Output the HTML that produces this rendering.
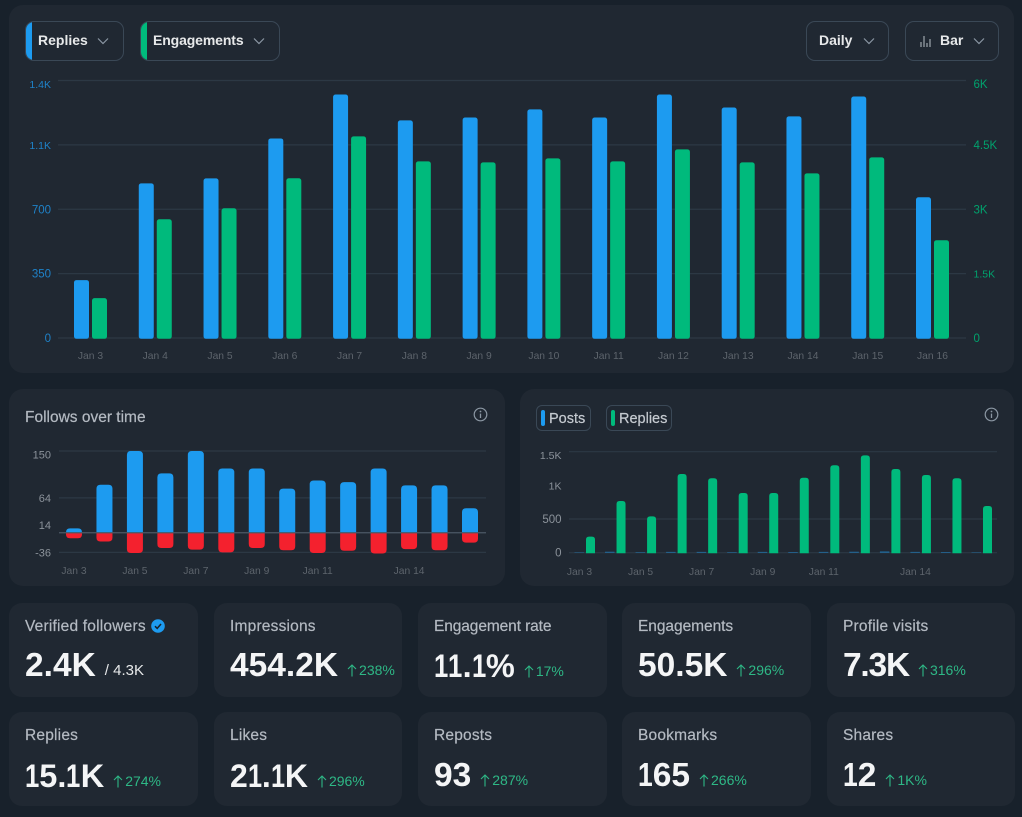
<!DOCTYPE html>
<html lang="en">
<head>
<meta charset="utf-8">
<title>Analytics dashboard</title>
<style>
html,body{margin:0;padding:0;background:#18212b;}
#page{position:relative;width:1022px;height:817px;overflow:hidden;background:#18212b;font-family:"Liberation Sans",sans-serif;}
.panel{position:absolute;background:#202832;border-radius:14px;}
.abs{position:absolute;}
svg{position:absolute;overflow:visible;}
svg text{font-family:"Liberation Sans",sans-serif;}
.btn{position:absolute;top:21px;height:38px;border:1px solid #3a4856;border-radius:9px;overflow:hidden;box-sizing:content-box;}
.btn .strip{position:absolute;left:0;top:0;bottom:0;width:6px;}
.btn .t{position:absolute;top:0;line-height:37px;font-size:14px;font-weight:700;color:#e7e9ea;white-space:nowrap;}
.btn svg{position:absolute;}
.leg{position:absolute;top:405px;height:24px;border:1px solid #3a4856;border-radius:6px;}
.leg .s{position:absolute;left:4px;top:4px;width:4px;height:16px;border-radius:2px;}
.leg .t{position:absolute;left:12px;top:0;line-height:26px;font-size:14.5px;color:#c5cad0;-webkit-text-stroke:.2px #c5cad0;white-space:nowrap;}
.card{position:absolute;width:189px;height:94px;background:#202832;border-radius:13px;}
.card .lab{position:absolute;left:16px;top:14px;line-height:20px;font-size:15.5px;letter-spacing:.2px;color:#b4bac2;-webkit-text-stroke:.2px #b4bac2;white-space:nowrap;}
.card .row{position:absolute;left:16px;top:44px;height:38px;display:flex;align-items:baseline;white-space:nowrap;}
.card.r2 .row{top:45px;}
.card .val{font-size:33.5px;line-height:38px;font-weight:700;color:#f4f5f6;}
.card .val .n{display:inline-block;width:.44em;transform:scaleX(.79);transform-origin:left center;}
.card .delta{position:relative;top:-1px;margin-left:9px;padding-left:12px;font-size:14px;color:#2eb886;}
.card .delta svg{left:0;top:2px;}
.card .sub{position:relative;top:-1px;margin-left:9px;font-size:15px;color:#e7e9ea;}
</style>
</head>
<body>
<div id="page">

  <div class="panel" style="left:9px;top:5px;width:1005px;height:368px"></div>

  <div class="btn" style="left:25px;width:97px">
    <div class="strip" style="background:#1d9bf0"></div>
    <div class="t" style="left:12px">Replies</div>
    <svg style="left:71px;top:15px" width="12" height="8" viewBox="0 0 12 8"><path d="M1 1.5L6 6.5L11 1.5" fill="none" stroke="#8b97a3" stroke-width="1.2"/></svg>
  </div>
  <div class="btn" style="left:140px;width:138px">
    <div class="strip" style="background:#00ba7c"></div>
    <div class="t" style="left:12px;letter-spacing:-.12px">Engagements</div>
    <svg style="left:112px;top:15px" width="12" height="8" viewBox="0 0 12 8"><path d="M1 1.5L6 6.5L11 1.5" fill="none" stroke="#8b97a3" stroke-width="1.2"/></svg>
  </div>
  <div class="btn" style="left:806px;width:81px">
    <div class="t" style="left:12px">Daily</div>
    <svg style="left:56px;top:15px" width="12" height="8" viewBox="0 0 12 8"><path d="M1 1.5L6 6.5L11 1.5" fill="none" stroke="#8b97a3" stroke-width="1.2"/></svg>
  </div>
  <div class="btn" style="left:905px;width:92px">
    <svg style="left:14px;top:13px" width="11" height="12" viewBox="0 0 11 12"><path d="M1 7V12M4 1V12M7 8V12M10 4V12" fill="none" stroke="#aab2ba" stroke-width="1.1"/></svg>
    <div class="t" style="left:34px">Bar</div>
    <svg style="left:67px;top:15px" width="12" height="8" viewBox="0 0 12 8"><path d="M1 1.5L6 6.5L11 1.5" fill="none" stroke="#8b97a3" stroke-width="1.2"/></svg>
  </div>

  <svg id="main-chart" style="left:9px;top:70px" width="1005" height="300" viewBox="9 70 1005 300"></svg>

  <div class="panel" style="left:9px;top:389px;width:496px;height:197px"></div>
  <div class="abs" style="left:25px;top:408px;line-height:20px;font-size:15.5px;color:#b4bac2;-webkit-text-stroke:.2px #b4bac2;white-space:nowrap">Follows over time</div>
  <svg style="left:473px;top:407px" width="15" height="15" viewBox="0 0 15 15"><circle cx="7.5" cy="7.5" r="6.3" fill="none" stroke="#8b97a3" stroke-width="1.2"/><path d="M7.5 6.6V11" stroke="#8b97a3" stroke-width="1.3"/><circle cx="7.5" cy="4.5" r=".9" fill="#8b97a3"/></svg>
  <svg id="follows-chart" style="left:9px;top:440px" width="496" height="140" viewBox="9 440 496 140"></svg>

  <div class="panel" style="left:520px;top:389px;width:494px;height:197px"></div>
  <div class="leg" style="left:536px;width:53px"><div class="s" style="background:#1d9bf0"></div><div class="t">Posts</div></div>
  <div class="leg" style="left:606px;width:64px"><div class="s" style="background:#00ba7c"></div><div class="t">Replies</div></div>
  <svg style="left:984px;top:407px" width="15" height="15" viewBox="0 0 15 15"><circle cx="7.5" cy="7.5" r="6.3" fill="none" stroke="#8b97a3" stroke-width="1.2"/><path d="M7.5 6.6V11" stroke="#8b97a3" stroke-width="1.3"/><circle cx="7.5" cy="4.5" r=".9" fill="#8b97a3"/></svg>
  <svg id="posts-chart" style="left:520px;top:440px" width="494" height="140" viewBox="520 440 494 140"></svg>

  <div class="card" style="left:9px;top:603px">
    <div class="lab">Verified followers</div>
    <svg style="left:142px;top:16px" width="14" height="14" viewBox="0 0 14 14"><circle cx="7" cy="7" r="6.8" fill="#1d9bf0"/><path d="M4 7.2L6.2 9.4L10 5" fill="none" stroke="#16212b" stroke-width="1.5"/></svg>
    <div class="row"><span class="val">2.4K</span><span class="sub">/ 4.3K</span></div>
  </div>
  <div class="card" style="left:214px;top:603px;width:188px">
    <div class="lab">Impressions</div>
    <div class="row"><span class="val">454.2K</span><span class="delta"><svg width="10" height="13" viewBox="0 0 10 13"><path d="M5 12.5V1M1 5L5 1L9 5" fill="none" stroke="#2eb886" stroke-width="1.1"/></svg>238%</span></div>
  </div>
  <div class="card" style="left:418px;top:603px">
    <div class="lab" style="letter-spacing:-.1px">Engagement rate</div>
    <div class="row"><span class="val" style="font-size:32.5px"><span class="n">1</span><span class="n">1</span>.<span class="n">1</span>%</span><span class="delta"><svg width="10" height="13" viewBox="0 0 10 13"><path d="M5 12.5V1M1 5L5 1L9 5" fill="none" stroke="#2eb886" stroke-width="1.1"/></svg>17%</span></div>
  </div>
  <div class="card" style="left:622px;top:603px">
    <div class="lab" style="letter-spacing:-.05px">Engagements</div>
    <div class="row"><span class="val">50.5K</span><span class="delta"><svg width="10" height="13" viewBox="0 0 10 13"><path d="M5 12.5V1M1 5L5 1L9 5" fill="none" stroke="#2eb886" stroke-width="1.1"/></svg>296%</span></div>
  </div>
  <div class="card" style="left:827px;top:603px;width:188px">
    <div class="lab">Profile visits</div>
    <div class="row"><span class="val" style="letter-spacing:-1.2px">7.3K</span><span class="delta"><svg width="10" height="13" viewBox="0 0 10 13"><path d="M5 12.5V1M1 5L5 1L9 5" fill="none" stroke="#2eb886" stroke-width="1.1"/></svg>316%</span></div>
  </div>

  <div class="card r2" style="left:9px;top:712px">
    <div class="lab">Replies</div>
    <div class="row"><span class="val" style="font-size:32.5px"><span class="n">1</span>5.<span class="n">1</span>K</span><span class="delta"><svg width="10" height="13" viewBox="0 0 10 13"><path d="M5 12.5V1M1 5L5 1L9 5" fill="none" stroke="#2eb886" stroke-width="1.1"/></svg>274%</span></div>
  </div>
  <div class="card r2" style="left:214px;top:712px;width:188px">
    <div class="lab">Likes</div>
    <div class="row"><span class="val" style="font-size:32px">2<span class="n">1</span>.<span class="n">1</span>K</span><span class="delta"><svg width="10" height="13" viewBox="0 0 10 13"><path d="M5 12.5V1M1 5L5 1L9 5" fill="none" stroke="#2eb886" stroke-width="1.1"/></svg>296%</span></div>
  </div>
  <div class="card r2" style="left:418px;top:712px">
    <div class="lab">Reposts</div>
    <div class="row"><span class="val">93</span><span class="delta"><svg width="10" height="13" viewBox="0 0 10 13"><path d="M5 12.5V1M1 5L5 1L9 5" fill="none" stroke="#2eb886" stroke-width="1.1"/></svg>287%</span></div>
  </div>
  <div class="card r2" style="left:622px;top:712px">
    <div class="lab">Bookmarks</div>
    <div class="row"><span class="val"><span class="n">1</span>65</span><span class="delta"><svg width="10" height="13" viewBox="0 0 10 13"><path d="M5 12.5V1M1 5L5 1L9 5" fill="none" stroke="#2eb886" stroke-width="1.1"/></svg>266%</span></div>
  </div>
  <div class="card r2" style="left:827px;top:712px;width:188px">
    <div class="lab">Shares</div>
    <div class="row"><span class="val"><span class="n">1</span>2</span><span class="delta"><svg width="10" height="13" viewBox="0 0 10 13"><path d="M5 12.5V1M1 5L5 1L9 5" fill="none" stroke="#2eb886" stroke-width="1.1"/></svg>1K%</span></div>
  </div>
</div>

<script>
/* Main chart data */
const mainDays = ["Jan 3","Jan 4","Jan 5","Jan 6","Jan 7","Jan 8","Jan 9","Jan 10","Jan 11","Jan 12","Jan 13","Jan 14","Jan 15","Jan 16"];
const mainReplies = [315,841,868,1085,1324,1183,1199,1243,1199,1324,1253,1205,1313,765];
const mainEngagements = [930,2767,3023,3721,4698,4116,4093,4186,4116,4395,4093,3837,4209,2279];
const mainLeftTicks = [0,350,700,1050,1400];
const mainLeftLabels = ["0","350","700","1.1K","1.4K"];
const mainRightTicks = [0,1500,3000,4500,6000];
const mainRightLabels = ["0","1.5K","3K","4.5K","6K"];

/* Follows chart data */
const followDays = ["Jan 3","Jan 4","Jan 5","Jan 6","Jan 7","Jan 8","Jan 9","Jan 10","Jan 11","Jan 12","Jan 13","Jan 14","Jan 15","Jan 16"];
const followXLabels = ["Jan 3","Jan 5","Jan 7","Jan 9","Jan 11","Jan 14"];
const followsGained = [8,88,150,109,150,118,118,81,96,93,118,87,87,45];
const followsLost = [-10,-16,-37,-28,-31,-36,-28,-32,-37,-33,-38,-30,-32,-18];
const followTicks = [150,64,14,-36];
const followGrid = [150,64,-36];

/* Posts and replies chart data */
const postDays = ["Jan 3","Jan 4","Jan 5","Jan 6","Jan 7","Jan 8","Jan 9","Jan 10","Jan 11","Jan 12","Jan 13","Jan 14","Jan 15","Jan 16"];
const postXLabels = ["Jan 3","Jan 5","Jan 7","Jan 9","Jan 11","Jan 14"];
const postCounts = [6,14,8,12,12,8,12,10,12,14,18,12,10,6];
const replyCounts = [238,768,540,1169,1105,887,887,1114,1298,1446,1243,1154,1105,694];
const postTicks = [0,500,1000,1500];
const postTickLabels = ["0","500","1K","1.5K"];
const postGrid = [0,500,1500];

const NS = "http://www.w3.org/2000/svg";
function make(parent, tag, attrs, text){
  const el = document.createElementNS(NS, tag);
  for (const k in attrs) el.setAttribute(k, attrs[k]);
  if (text !== undefined) el.textContent = text;
  parent.appendChild(el);
  return el;
}
function barPath(x, w, y0, y1, r){
  const dir = y1 < y0 ? 1 : -1;
  const h = Math.abs(y1 - y0);
  const rr = Math.min(r, h, w / 2);
  return "M" + x + " " + y0 + "V" + (y1 + dir * rr) +
    "Q" + x + " " + y1 + " " + (x + rr) + " " + y1 +
    "H" + (x + w - rr) +
    "Q" + (x + w) + " " + y1 + " " + (x + w) + " " + (y1 + dir * rr) +
    "V" + y0 + "Z";
}
function linear(d0, d1, r0, r1){
  return function(v){ return r0 + (v - d0) * (r1 - r0) / (d1 - d0); };
}
function tickSize(label){
  return label.indexOf("1") >= 0 ? 10.5 : 11.5;
}

/* ---------- main chart ---------- */
(function(){
  const svg = document.getElementById("main-chart");
  const yL = linear(0, mainLeftTicks[mainLeftTicks.length - 1], 338, 80.5);
  const yR = linear(0, mainRightTicks[mainRightTicks.length - 1], 338, 80.5);
  const xC = function(i){ return 90.5 + i * (932.5 - 90.5) / (mainDays.length - 1); };
  mainLeftTicks.forEach(function(t, i){
    const y = yL(t);
    const line = make(svg, "line", {x1:58, x2:966, y1:y, y2:y, stroke:"#2c3844", "stroke-width":1.2});
    
    
    const ly = i === mainLeftTicks.length - 1 ? y + 3.5 : y;
    const a = make(svg, "text", {x:51, y:ly + 4, "text-anchor":"end", "font-size":tickSize(mainLeftLabels[i]), fill:"#1f82c8"}, mainLeftLabels[i]);
    
    
  });
  mainRightTicks.forEach(function(t, i){
    const y = yR(t);
    const ly = i === mainRightTicks.length - 1 ? y + 3.5 : y;
    const b = make(svg, "text", {x:973.5, y:ly + 4, "font-size":tickSize(mainRightLabels[i]), fill:"#00a26d"}, mainRightLabels[i]);
    
    
  });
  mainDays.forEach(function(d, i){
    const c = xC(i);
    const ry = yL(mainReplies[i]);
    const r = make(svg, "rect", {x:c - 16.5, y:ry, width:15, height:338.8 - ry, rx:2.5, fill:"#1d9bf0"});
    
    
    const ey = yR(mainEngagements[i]);
    const e = make(svg, "rect", {x:c + 1.5, y:ey, width:15, height:338.8 - ey, rx:2.5, fill:"#00ba7c"});
    
    
    const l = make(svg, "text", {x:c, y:359, "text-anchor":"middle", "font-size":10.3, fill:"#5d646c"}, d);
    
    
  });
})();

/* ---------- follows chart ---------- */
(function(){
  const svg = document.getElementById("follows-chart");
  const y = linear(-36, 150, 552.4, 451);
  const xC = function(i){ return 74 + i * (470 - 74) / (followDays.length - 1); };
  followGrid.forEach(function(t){
    const g = make(svg, "line", {x1:59, x2:486, y1:y(t), y2:y(t), stroke:"#2c3844", "stroke-width":1.2});
    
    
  });
  followTicks.forEach(function(t, i){
    const ly = i === 0 ? y(t) + 3.5 : y(t);
    const a = make(svg, "text", {x:51, y:ly + 4, "text-anchor":"end", "font-size":11, fill:"#8b929a"}, String(t));
    
    
  });
  followDays.forEach(function(d, i){
    const c = xC(i);
    const u = make(svg, "path", {d:barPath(c - 8, 16, y(0), y(followsGained[i]), 4), fill:"#1d9bf0"});
    
    
    const n = make(svg, "path", {d:barPath(c - 8, 16, y(0), y(followsLost[i]), 4), fill:"#f4212e"});
    
    
    if (followXLabels.indexOf(d) >= 0) {
      const l = make(svg, "text", {x:c, y:574, "text-anchor":"middle", "font-size":10.3, fill:"#5d646c"}, d);
      
      
    }
  });
  const z = make(svg, "line", {x1:59, x2:486, y1:y(0), y2:y(0), stroke:"#4b5966", "stroke-width":1.2});
  
  
})();

/* ---------- posts / replies chart ---------- */
(function(){
  const svg = document.getElementById("posts-chart");
  const y = linear(0, 1500, 552.7, 451.7);
  const xC = function(i){ return 585 + i * (982 - 585) / (postDays.length - 1); };
  postGrid.forEach(function(t){
    const g = make(svg, "line", {x1:569, x2:997, y1:y(t), y2:y(t), stroke:"#2c3844", "stroke-width":1.2});
    
    
  });
  postTicks.forEach(function(t, i){
    const ly = i === postTicks.length - 1 ? y(t) + 3.5 : y(t);
    const a = make(svg, "text", {x:561.5, y:ly + 4, "text-anchor":"end", "font-size":tickSize(postTickLabels[i]), fill:"#8b929a"}, postTickLabels[i]);
    
    
  });
  postDays.forEach(function(d, i){
    const c = xC(i);
    const p = make(svg, "rect", {x:c - 10.5, y:y(postCounts[i]), width:9.5, height:y(0) - y(postCounts[i]), fill:"#1d9bf0", opacity:0.6});
    
    
    const r = make(svg, "path", {d:barPath(c + 1, 9, y(0) + 0.5, y(replyCounts[i]), 3), fill:"#00ba7c"});
    
    
    if (postXLabels.indexOf(d) >= 0) {
      const l = make(svg, "text", {x:c - 5.5, y:575, "text-anchor":"middle", "font-size":10.3, fill:"#5d646c"}, d);
      
      
    }
  });
})();
</script>
</body>
</html>
